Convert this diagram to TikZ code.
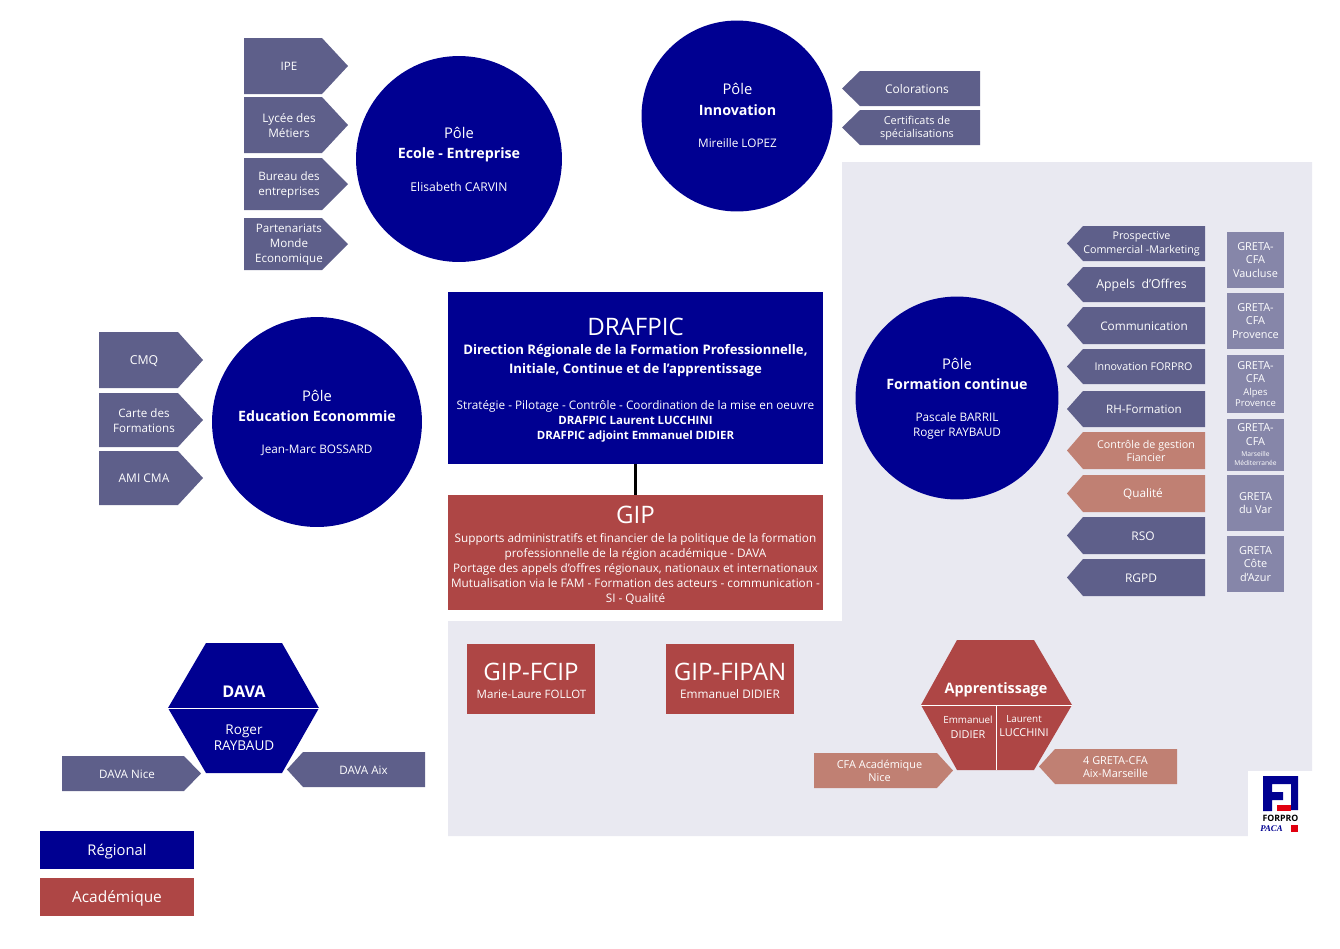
\documentclass[tikz,border=0pt]{standalone}
\usepackage{fontspec}
\setmainfont{Open Sans}
\newfontfamily\logofont{Liberation Serif}
\usepackage{tikz}

\definecolor{navy}{HTML}{000091}
\definecolor{brick}{HTML}{AE4645}
\definecolor{slate}{HTML}{5E5F8A}
\definecolor{salmon}{HTML}{C08073}
\definecolor{haze}{HTML}{8686A9}
\definecolor{paper}{HTML}{E9E9F1}
\definecolor{logored}{HTML}{E1000F}

\newcommand{\fsize}[2]{\fontsize{#1}{#2}\selectfont}

\tikzset{
    txt/.style={text=white,align=center,inner sep=0pt,font=\fsize{6.7}{8.5}},
    bigtxt/.style={txt,font=\fsize{13.7}{15}},
    titletxt/.style={txt,font=\fsize{8.1}{10}\bfseries},
    poletxt/.style={txt,font=\fsize{8.4}{10}},
    pole/.style={circle,fill=navy,inner sep=0pt,minimum size=#1},
    box/.style={fill=#1,txt},
    tag/.style={fill=#1,draw=none}
}

\begin{document}
\begin{tikzpicture}[x=0.02cm,y=-0.02cm]
    \useasboundingbox (0,0) rectangle (1340,948);
    % grey zone
    \fill[paper] (842,162) -- (1312,162) -- (1312,771) -- (1248,771) -- (1248,836)
        -- (448,836) -- (448,621) -- (842,621) -- cycle;
    % poles
    \node[pole=4.12cm] (ecole) at (459,159) {};
    \node[poletxt] (ecoleA) at (459,132.5) {Pôle};
    \node[titletxt] (ecoleB) at (459,155) {Ecole - Entreprise};
    \node[txt,font=\fsize{6.9}{8.5}] (ecoleC) at (459,186.5) {Elisabeth CARVIN};
    \node[pole=3.82cm] (innov) at (737,116) {};
    \node[poletxt] (innovA) at (737.5,89) {Pôle};
    \node[titletxt] (innovB) at (737.5,110) {Innovation};
    \node[txt] (innovC) at (737.5,143) {Mireille LOPEZ};
    \node[pole=4.2cm] (educ) at (317,422) {};
    \node[poletxt] (educA) at (317,396) {Pôle};
    \node[titletxt] (educB) at (317,416) {Education Econommie};
    \node[txt] (educC) at (317,450.5) {Jean-Marc BOSSARD};
    \node[pole=4.06cm] (forma) at (957,398) {};
    \node[poletxt] (formaA) at (957,364) {Pôle};
    \node[titletxt] (formaB) at (957,384) {Formation continue};
    \node[txt] (formaC) at (957,426) {Pascale BARRIL\\Roger RAYBAUD};
    % tags pointing right
    \foreach \Name/\Xa/\Xb/\Xc/\Ya/\Yb/\Fill/\Xt/\Size/\Label in {
        ipe/244/322/348/38/94/slate/289/6.6/IPE,
        lycee/244/322/348/97/153/slate/289/6.7/{Lycée des\\Métiers},
        bureau/244/322/348/158/210/slate/289/6.6/{Bureau des\\entreprises},
        parte/244/322/348/218/270/slate/289/6.6/{Partenariats\\Monde\\Economique},
        cmq/99/178/203/332/388/slate/144/7/CMQ,
        carte/99/178/203/393/447/slate/144/6.6/{Carte des\\Formations},
        ami/99/178/203/451/505/slate/144/6.8/AMI CMA,
        davan/62/184/201/756/791/slate/127/6.6/DAVA Nice,
        cfan/814/937/953/753/788/salmon/879.5/6.2/{CFA Académique\\[-1pt]Nice}}
    {
        \fill[tag=\Fill] (\Xa,\Ya) -- (\Xb,\Ya) -- (\Xc,{(\Ya+\Yb)/2}) -- (\Xb,\Yb) -- (\Xa,\Yb) -- cycle;
        \node[txt,font=\fsize{\Size}{8.5}] (\Name) at (\Xt,{(\Ya+\Yb)/2+0.7}) {\Label};
    }
    % tags pointing left
    \foreach \Name/\Xa/\Xb/\Xc/\Ya/\Yb/\Fill/\Xt/\Size/\Label in {
        colo/842/860/980/71/106/slate/917/6.8/Colorations,
        certif/842/860/980/110/145/slate/917/6.2/{Certificats de\\spécialisations},
        prosp/1067/1083/1205/226/261/slate/1141.5/6.1/{Prospective\\Commercial -Marketing},
        appel/1067/1083/1205/267/302/slate/1141.5/7/{Appels\ \ d’Offres},
        commu/1067/1083/1205/307/344/slate/1144/6.7/Communication,
        forpro/1067/1083/1205/349/384/slate/1143.5/6.1/Innovation FORPRO,
        rhform/1067/1083/1205/391/427/slate/1144/6.6/RH-Formation,
        gestion/1067/1083/1205/432/469/salmon/1146/6.1/{Contrôle de gestion\\Fiancier},
        qualite/1067/1083/1205/475/512/salmon/1143/6.7/Qualité,
        rso/1067/1083/1205/517/554/slate/1143/6.8/RSO,
        rgpd/1067/1083/1205/559/596/slate/1141/6.8/RGPD,
        davaa/287/303/425/752/787/slate/363.5/6.6/DAVA Aix,
        cfam/1039/1055/1177/749/784/salmon/1115.5/6.2/{4 GRETA-CFA\\Aix-Marseille}}
    {
        \fill[tag=\Fill] (\Xc,\Ya) -- (\Xb,\Ya) -- (\Xa,{(\Ya+\Yb)/2}) -- (\Xb,\Yb) -- (\Xc,\Yb) -- cycle;
        \node[txt,font=\fsize{\Size}{7.6}] (\Name) at (\Xt,{(\Ya+\Yb)/2+0.5}) {\Label};
    }
    % greta boxes
    \foreach \Name/\Ya/\Yb/\Label in {
        vauc/232/288/{GRETA-\\CFA\\Vaucluse},
        prov/293/349/{GRETA-\\CFA\\Provence},
        alpes/355/413/{GRETA-\\CFA\\{\fsize{5.4}{6.5}Alpes}\\[-1.4pt]{\fsize{5.4}{6.5}Provence}},
        mars/419/471/{GRETA-\\CFA\\[-1.4pt]{\fsize{3.8}{5.5}Marseille}\\[-2pt]{\fsize{3.8}{5.5}Méditerranée}},
        var/475/531/{GRETA\\du Var},
        azur/536/592/{GRETA\\Côte\\d’Azur}}
    {
        \fill[haze] (1227,\Ya) rectangle (1284,\Yb);
        \node[txt,font=\fsize{6.2}{7.6}] (\Name) at (1255.5,{(\Ya+\Yb)/2}) {\Label};
    }
    % main boxes
    \node[box=navy,minimum width=7.5cm,minimum height=3.44cm] (drafpic) at (635.5,378) {};
    \node[bigtxt] (drafpicA) at (635.5,327) {DRAFPIC};
    \node[txt,font=\fsize{7.5}{10.8}\bfseries] (drafpicB) at (635.5,361) {Direction Régionale de la Formation Professionnelle,\\Initiale, Continue et de l’apprentissage};
    \node[txt] (drafpicC) at (635.5,421) {Stratégie - Pilotage - Contrôle - Coordination de la mise en oeuvre\\\fsize{6.5}{8.5}\bfseries DRAFPIC Laurent LUCCHINI\\\fsize{6.5}{8.5}\bfseries DRAFPIC adjoint Emmanuel DIDIER};
    \node[box=brick,minimum width=7.5cm,minimum height=2.3cm] (gip) at (635.5,552.5) {};
    \node[bigtxt] (gipA) at (635.5,515) {GIP};
    \node[txt] (gipB) at (635.5,568.7) {Supports administratifs et financier de la politique de la formation\\professionnelle de la région académique - DAVA\\Portage des appels d’offres régionaux, nationaux et internationaux\\Mutualisation via le FAM - Formation des acteurs - communication -\\SI - Qualité};
    \draw[line width=1.7pt,black] (drafpic) -- (gip);
    \node[box=brick,minimum width=2.56cm,minimum height=1.4cm] (fcip) at (531,679) {};
    \node[bigtxt] (fcipA) at (531,672) {GIP-FCIP};
    \node[txt,font=\fsize{6.55}{8.5}] (fcipB) at (531.5,694) {Marie-Laure FOLLOT};
    \node[box=brick,minimum width=2.56cm,minimum height=1.4cm] (fipan) at (730,679) {};
    \node[bigtxt] (fipanA) at (730,672) {GIP-FIPAN};
    \node[txt] (fipanB) at (730,694) {Emmanuel DIDIER};
    % hexagons
    \fill[navy] (206,643) -- (282,643) -- (319,708) -- (282,773) -- (206,773) -- (168,708) -- cycle;
    \draw[white,line width=0.5pt] (168,708) -- (319,708);
    \node[txt,font=\fsize{9.2}{10}\bfseries] (dava) at (244,691.7) {DAVA};
    \node[txt,font=\fsize{7.7}{9}] (davaB) at (244,738) {Roger\\RAYBAUD};
    \fill[brick] (957,640) -- (1034,640) -- (1072,705) -- (1034,770) -- (957,770) -- (921,705) -- cycle;
    \draw[white,line width=0.5pt] (921,705) -- (1072,705) (996,705) -- (996,770);
    \node[txt,font=\fsize{8.2}{10}\bfseries] (appr) at (996,690) {Apprentissage};
    \node[txt,font=\fsize{6.2}{8.5}] (apprB) at (968,727) {\fsize{5.6}{8.5}Emmanuel\\DIDIER};
    \node[txt,font=\fsize{6.2}{7.6}] (apprC) at (1024,726) {\fsize{5.6}{7.6}Laurent\\LUCCHINI};
    % legend
    \node[box=navy,minimum width=3.08cm,minimum height=0.76cm] (regional) at (117,850) {};
    \node[txt,font=\fsize{8.4}{10}] (regionalA) at (117,852) {Régional};
    \node[box=brick,minimum width=3.08cm,minimum height=0.76cm] (academ) at (117,897) {};
    \node[txt,font=\fsize{8.8}{10}] (academA) at (117,898) {Académique};
    % logo
    \fill[white] (1248,771) rectangle (1312,836);
    \fill[navy] (1263,776) -- (1298,776) -- (1298,810) -- (1291,810) -- (1291,784) -- (1272,784)
        -- (1272,792) -- (1283,792) -- (1283,800) -- (1272,800) -- (1272,811) -- (1263,811) -- cycle;
    \fill[logored] (1277,805) rectangle (1291,811);
    \fill[logored] (1291,825) rectangle (1298,832);
    \node[inner sep=0pt,font=\fsize{5}{6}\bfseries,text=black] (logoA) at (1280.5,818) {FORPRO};
    \node[inner sep=0pt,font=\logofont\fsize{5}{6}\bfseries\itshape,text=navy] (logoB) at (1271.5,829) {PACA};
\end{tikzpicture}
\end{document}
